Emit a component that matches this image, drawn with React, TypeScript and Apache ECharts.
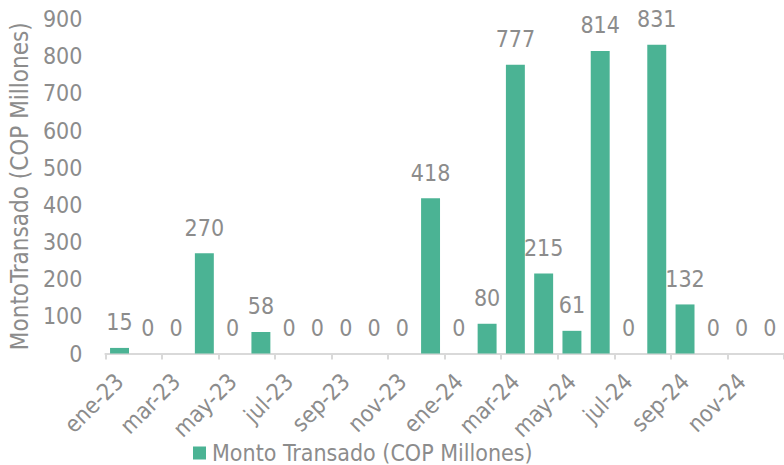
import React, { useEffect, useRef } from "react";
import * as echarts from "echarts";

const months = ["ene", "feb", "mar", "abr", "may", "jun", "jul", "ago", "sep", "oct", "nov", "dic"];
const years = ["23", "24"];
const categories: string[] = years.flatMap((y) => months.map((m) => `${m}-${y}`));
const montoTransado = [15, 0, 0, 270, 0, 58, 0, 0, 0, 0, 0, 418, 0, 80, 777, 215, 61, 814, 0, 831, 132, 0, 0, 0];
const seriesName = "Monto Transado (COP Millones)";
const yAxisTitle = "MontoTransado (COP Millones)";

const FONT = "'DejaVu Sans Condensed', 'DejaVu Sans', sans-serif";
const GRAY = "#8c8c8c";

export default function App() {
  const ref = useRef<HTMLDivElement>(null);
  useEffect(() => {
    if (!ref.current) return;
    const chart = echarts.init(ref.current, undefined, { renderer: "svg" });
    chart.setOption({
      animation: false,
      textStyle: { fontFamily: FONT },
      grid: { left: 104.5, right: -4.8, top: 19, bottom: 111.5, containLabel: false },
      legend: {
        left: 188,
        top: 436,
        itemWidth: 13,
        itemHeight: 13,
        itemGap: 10,
        icon: "rect",
        textStyle: { fontFamily: FONT, fontSize: 23, lineHeight: 24, color: GRAY, padding: [0, 0, 0, 1] },
        data: [seriesName],
      },
      xAxis: {
        type: "category",
        data: categories,
        boundaryGap: true,
        axisLine: { show: true, lineStyle: { color: "#d9d9d9", width: 2 } },
        axisTick: { show: true, interval: 1, length: 6, lineStyle: { color: "#d9d9d9", width: 2 } },
        axisLabel: {
          interval: 1,
          rotate: 45,
          margin: 24,
          fontFamily: FONT,
          fontSize: 23,
          color: GRAY,
        },
      },
      yAxis: {
        type: "value",
        min: 0,
        max: 900,
        interval: 100,
        name: yAxisTitle,
        nameLocation: "middle",
        nameRotate: 90,
        nameGap: 70,
        nameTextStyle: { fontFamily: FONT, fontSize: 24, color: GRAY },
        axisLine: { show: false },
        axisTick: { show: false },
        splitLine: { show: false },
        axisLabel: { margin: 23, fontFamily: FONT, fontSize: 23, color: GRAY },
      },
      series: [
        {
          name: seriesName,
          type: "bar",
          data: montoTransado,
          barWidth: "67%",
          itemStyle: { color: "#4bb394" },
          label: {
            show: true,
            position: "top",
            distance: 14,
            fontFamily: FONT,
            fontSize: 23,
            color: GRAY,
          },
        },
      ],
    });
    return () => chart.dispose();
  }, []);
  return (
    <div
      ref={ref}
      style={{ position: "fixed", left: 0, top: 0, width: 784, height: 465, background: "#fff" }}
    />
  );
}
